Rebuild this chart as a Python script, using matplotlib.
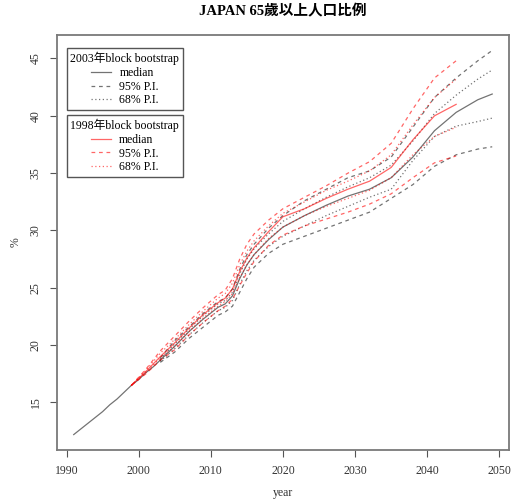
import matplotlib
matplotlib.use("Agg")
import matplotlib.pyplot as plt
import numpy as np

plt.rcParams['font.family'] = ['Liberation Serif', 'Noto Sans CJK TC']

# observed series (black)
obs_years = [1991, 1992, 1993, 1994, 1995, 1996, 1997, 1998, 1999, 2000, 2001, 2002, 2003]
obs_vals = [12.2, 12.7, 13.2, 13.7, 14.2, 14.8, 15.3, 15.9, 16.5, 17.0, 17.6, 18.1, 18.7]

# 2003 block bootstrap (black)
yrs_b = [2003, 2005, 2007, 2009, 2011, 2012, 2013, 2014, 2015, 2016, 2018, 2020,
         2023, 2026, 2029, 2032, 2035, 2038, 2041, 2044, 2047, 2049]
b_med = [18.7, 19.9, 21.2, 22.3, 23.3, 23.6, 24.3, 25.8, 27.0, 27.9, 29.2, 30.3,
         31.3, 32.2, 33.0, 33.6, 34.6, 36.4, 38.7, 40.3, 41.4, 41.9]
b_95u = [18.9, 20.4, 21.6, 22.8, 23.8, 24.1, 24.9, 26.6, 27.9, 28.8, 30.2, 31.3,
         32.6, 33.6, 34.6, 35.2, 36.4, 39.0, 41.6, 43.3, 44.8, 45.7]
b_68u = [18.8, 20.1, 21.4, 22.6, 23.6, 23.9, 24.6, 26.2, 27.5, 28.4, 29.7, 30.8,
         31.9, 32.9, 33.8, 34.6, 35.7, 37.8, 40.2, 41.8, 43.2, 44.0]
b_68l = [18.6, 19.7, 20.9, 22.0, 23.0, 23.3, 23.9, 25.3, 26.5, 27.4, 28.6, 29.5,
         30.4, 31.3, 32.1, 32.9, 33.6, 36.1, 38.2, 39.1, 39.5, 39.8]
b_95l = [18.5, 19.4, 20.6, 21.6, 22.6, 22.9, 23.4, 24.6, 25.8, 26.8, 28.0, 28.8,
         29.5, 30.2, 30.9, 31.6, 32.8, 34.0, 35.6, 36.6, 37.1, 37.3]

# 1998 block bootstrap (red)
yrs_r = [1999, 2001, 2003, 2005, 2007, 2009, 2011, 2012, 2013, 2014, 2015, 2016,
         2018, 2020, 2023, 2026, 2029, 2032, 2035, 2038, 2041, 2044]
r_med = [16.5, 17.7, 19.0, 20.2, 21.5, 22.7, 23.7, 24.1, 24.9, 26.4, 27.6, 28.5,
         29.9, 31.2, 31.9, 32.8, 33.6, 34.3, 35.5, 37.9, 40.0, 41.0]
r_95u = [16.5, 17.9, 19.5, 20.8, 22.1, 23.3, 24.4, 24.8, 25.8, 27.5, 28.8, 29.7,
         30.9, 31.9, 32.9, 33.9, 35.0, 36.0, 37.6, 40.6, 43.3, 44.8]
r_68u = [16.5, 17.8, 19.3, 20.5, 21.8, 23.0, 24.1, 24.5, 25.4, 27.0, 28.2, 29.1,
         30.4, 31.5, 32.5, 33.5, 34.3, 35.2, 36.6, 39.2, 41.6, 43.2]
r_68l = [16.5, 17.6, 18.9, 19.9, 21.2, 22.4, 23.4, 23.8, 24.5, 25.9, 27.0, 27.9,
         29.3, 30.3, 31.3, 32.1, 32.8, 33.5, 34.6, 36.6, 38.2, 39.0]
r_95l = [16.5, 17.5, 18.7, 19.6, 20.9, 22.0, 23.0, 23.4, 24.0, 25.2, 26.3, 27.3,
         28.7, 29.6, 30.4, 31.0, 31.6, 32.3, 33.2, 34.6, 35.9, 36.5]

xticks = [1990, 2000, 2010, 2020, 2030, 2040, 2050]
yticks = [15, 20, 25, 30, 35, 40, 45]

fig = plt.figure(figsize=(5.11, 5.04), dpi=100)
ax = fig.add_axes([0.1115, 0.107, 0.8845, 0.8236])

blk = (0, 0, 0, 0.55)
red = (1, 0, 0, 0.6)

ax.plot(obs_years, obs_vals, color=blk, lw=0.9)
hb = []
hb.append(ax.plot(yrs_b, b_med, color=blk, lw=0.9)[0])
hb.append(ax.plot(yrs_b, b_95u, color=blk, lw=0.9, ls=(0, (3, 3)))[0])
ax.plot(yrs_b, b_95l, color=blk, lw=0.9, ls=(0, (3, 3)))
hb.append(ax.plot(yrs_b, b_68u, color=blk, lw=0.9, ls=(0, (1, 2)))[0])
ax.plot(yrs_b, b_68l, color=blk, lw=0.9, ls=(0, (1, 2)))

hr = []
hr.append(ax.plot(yrs_r, r_med, color=red, lw=0.9)[0])
hr.append(ax.plot(yrs_r, r_95u, color=red, lw=0.9, ls=(0, (3, 3)))[0])
ax.plot(yrs_r, r_95l, color=red, lw=0.9, ls=(0, (3, 3)))
hr.append(ax.plot(yrs_r, r_68u, color=red, lw=0.9, ls=(0, (1, 2)))[0])
ax.plot(yrs_r, r_68l, color=red, lw=0.9, ls=(0, (1, 2)))

ax.set_xlim(1988.68, 2051.32)
ax.set_ylim(10.85, 47.05)
ax.set_xticks(xticks)
ax.set_yticks(yticks)
for s in ax.spines.values():
    s.set_color('#7a7a7a')
    s.set_linewidth(1.3)
ax.tick_params(direction='out', length=5, color='#555555', labelcolor='#333333',
               labelsize=8.5, pad=6)
plt.setp(ax.get_yticklabels(), rotation=90, va='center')

ax.set_xlabel('year', fontsize=8.5, color='#333333', labelpad=7)
ax.set_ylabel('%', fontsize=8.5, color='#333333', labelpad=6)
ax.set_title('JAPAN 65歲以上人口比例', fontsize=10.5, fontweight='bold', pad=14)

labels = ['median', '95% P.I.', '68% P.I.']
kw = dict(loc='upper left', fontsize=8.5, title_fontsize=8.5, fancybox=False,
          edgecolor='#555555', framealpha=1, handlelength=1.7, handletextpad=0.7,
          labelspacing=0.15, borderpad=0.3, borderaxespad=0)
leg1 = ax.legend(hb, labels, title='2003年block bootstrap',
                 bbox_to_anchor=(0.022, 0.968), **kw)
ax.add_artist(leg1)
leg2 = ax.legend(hr, labels, title='1998年block bootstrap',
                 bbox_to_anchor=(0.022, 0.807), **kw)

fig.savefig('out.png', dpi=100)
